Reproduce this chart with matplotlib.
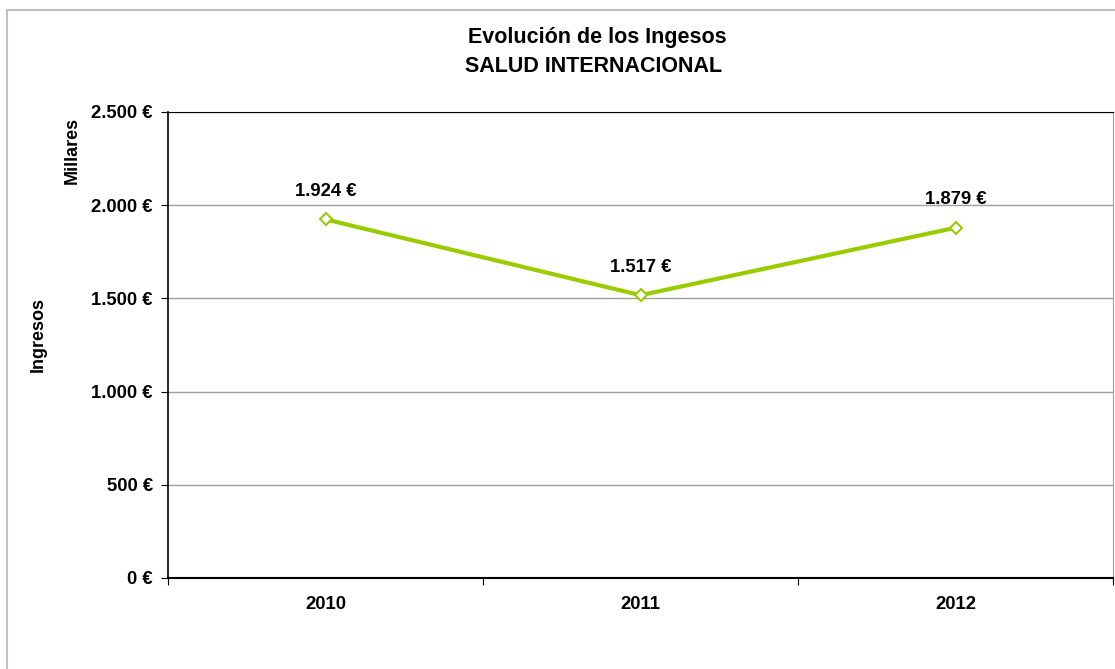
import matplotlib.pyplot as plt
from matplotlib.patches import Rectangle

years = ['2010', '2011', '2012']
ingresos = [1924, 1517, 1879]  # en miles de euros
yticks = [0, 500, 1000, 1500, 2000, 2500]

plt.rcParams['font.family'] = ['Liberation Sans', 'DejaVu Sans']
plt.rcParams['font.weight'] = 'bold'

W, H = 1115, 669
fig = plt.figure(figsize=(W / 100, H / 100), dpi=100)

# marco exterior del grafico
fig.patches.append(Rectangle((7 / W, -0.1), 1.2, (H - 10) / H + 0.1,
                             transform=fig.transFigure, fill=False,
                             edgecolor='#c0c0c0', linewidth=1.5))

ax = fig.add_axes([168 / W, (H - 578) / H, (1113 - 168) / W, (578 - 112) / H])

x = [i + 0.5 for i in range(len(years))]
ax.plot(x, ingresos, color='#99cc00', linewidth=3, marker='D', markersize=6,
        markerfacecolor='white', markeredgecolor='#99cc00', markeredgewidth=1.5,
        zorder=3)

for xi, v in zip(x, ingresos):
    lbl = '{:,}'.format(v).replace(',', '.') + ' €'
    ax.annotate(lbl, (xi, v), xytext=(0, 20), textcoords='offset points',
                ha='center', va='center', fontsize=13.3, fontweight='bold')

ax.set_xlim(0, 3)
ax.set_ylim(0, 2500)
ax.set_yticks(yticks)
ax.set_yticklabels(['{:,}'.format(t).replace(',', '.') + ' €' for t in yticks],
                   fontsize=13.3, fontweight='bold')
ax.set_xticks([0, 1, 2, 3])
ax.set_xticklabels([])
ax.set_xticks(x, minor=True)
ax.set_xticklabels(years, minor=True, fontsize=13.3, fontweight='bold')
ax.tick_params(axis='x', which='minor', length=0, pad=13)
ax.tick_params(axis='x', which='major', direction='out', length=5)
ax.tick_params(axis='y', direction='out', length=5, pad=6)

ax.grid(axis='y', color='#a0a0a0', linewidth=1)
ax.set_axisbelow(True)
for s in ['left', 'bottom', 'top']:
    ax.spines[s].set_color('black')
ax.spines['right'].set_color('#a0a0a0')
ax.spines['left'].set_linewidth(1.2)
ax.spines['bottom'].set_linewidth(1.5)

fig.text(597 / W, 1 - 38 / H, 'Evolución de los Ingesos', ha='center',
         va='center', fontsize=15.5, fontweight='bold')
fig.text(594 / W, 1 - 67 / H, 'SALUD INTERNACIONAL', ha='center',
         va='center', fontsize=15.5, fontweight='bold')
fig.text(38 / W, 1 - 334 / H, 'Ingresos', rotation=90, ha='center',
         va='center', fontsize=13, fontweight='bold')
fig.text(72 / W, 1 - 150 / H, 'Millares', rotation=90, ha='center',
         va='center', fontsize=13, fontweight='bold')

fig.savefig('out.png', dpi=100)
